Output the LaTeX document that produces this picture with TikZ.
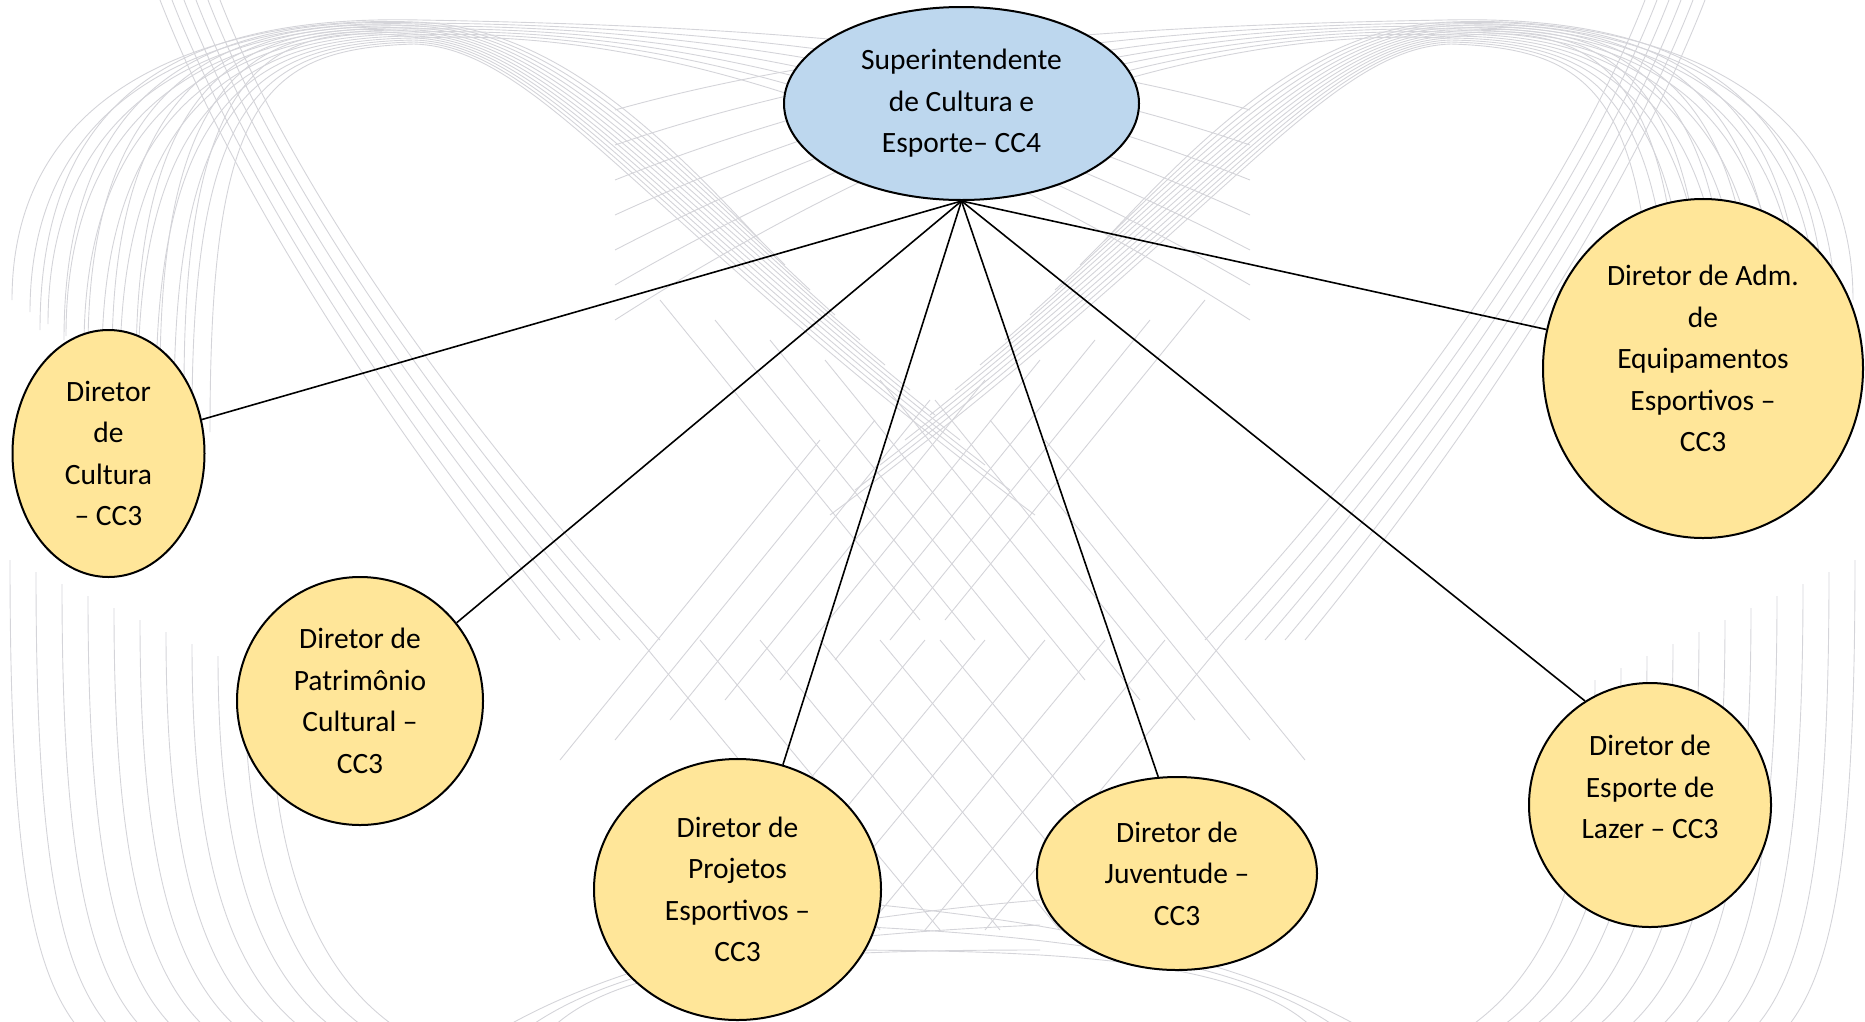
\documentclass[tikz,border=0pt]{standalone}
\usepackage{fontspec}
\setmainfont{Carlito}
\usetikzlibrary{shapes.geometric}

\definecolor{supblue}{RGB}{189,215,238}
\definecolor{dirgold}{RGB}{255,230,153}
\definecolor{bggrey}{RGB}{212,212,217}

\tikzset{
  bgline/.style={draw=bggrey, line width=0.9pt},
  nodetext/.style={align=center, inner sep=0pt, font=\fontsize{29.5}{41.5}\selectfont},
  chief/.style={nodetext, ellipse, draw, line width=2pt, fill=supblue},
  dirnode/.style={chief, fill=dirgold},
  link/.style={line width=1.6pt}
}

% one half of the faint background pattern (mirrored for the other half)
\newcommand{\bgcurves}{%
  \foreach \i in {0,...,11}
    \draw[bgline] (12+18*\i, 300+12*\i) .. controls (12+18*\i, 60+4*\i) and (260, 16+3*\i) .. (414, 22+2*\i)
      .. controls (540, 26+2*\i) and (640, 110+10*\i) .. (760+25*\i, 240+25*\i);
  \foreach \i in {0,...,6}
    \draw[bgline] (40+24*\i, 330+10*\i) .. controls (40+24*\i, 80) and (200+10*\i, 15) .. (420, 20+3*\i)
      .. controls (700, 25) and (1000, 40+20*\i) .. (1250, 110+35*\i);
  \foreach \i in {0,...,5}
    \draw[bgline] (160+12*\i, 0) .. controls (230+12*\i, 180) and (380+15*\i, 420) .. (560+20*\i, 640);
  \foreach \i in {0,...,7}
    \draw[bgline] (660+55*\i, 300+20*\i) -- ++(260, 320);
  \foreach \i in {0,...,5}
    \draw[bgline] (640+60*\i, 640) -- ++(240, 290);
  \foreach \i in {0,...,10}
    \draw[bgline] (10+26*\i, 560+12*\i) .. controls (10+26*\i, 850) and (30+28*\i, 970) .. (80+32*\i, 1030);
  \foreach \i in {0,...,2}
    \draw[bgline] (500+25*\i, 1030) .. controls (620, 960) and (800, 920+15*\i) .. (1040, 900+25*\i);
}

\begin{document}
\begin{tikzpicture}[x=1pt, y=-1pt]
  \useasboundingbox (0,0) rectangle (1865,1021);
  \begin{scope}
    \clip (0,0) rectangle (1865,1021);
    \bgcurves
    \begin{scope}[shift={(1865,0)}, xscale=-1]
      \bgcurves
    \end{scope}
  \end{scope}

  \node[chief, minimum width=355pt, minimum height=193pt] (sup) at (961.5,103.5) {Superintendente\\de Cultura e\\Esporte– CC4};
  \node[dirnode, minimum width=192pt, minimum height=247pt] (cul) at (108.5,453.5) {Diretor\\de\\Cultura\\– CC3};
  \node[dirnode, minimum width=246pt, minimum height=248pt] (pat) at (360,701) {Diretor de\\Patrimônio\\Cultural –\\CC3};
  \node[dirnode, minimum width=287pt, minimum height=261pt] (proj) at (737.5,889.5) {Diretor de\\Projetos\\Esportivos –\\CC3};
  \node[dirnode, minimum width=280pt, minimum height=193pt] (juv) at (1177,873.5) {Diretor de\\Juventude –\\CC3};
  \node[dirnode, minimum width=242pt, minimum height=244pt] (laz) at (1650,805) {};
  \node[nodetext] at ([yshift=18pt]laz.center) {Diretor de\\Esporte de\\Lazer – CC3};
  \node[dirnode, minimum width=320pt, minimum height=339pt] (adm) at (1703,368.5) {};
  \node[nodetext] at ([yshift=10pt]adm.center) {Diretor de Adm.\\de\\Equipamentos\\Esportivos –\\CC3};

  \draw[link] (sup.south) -- (cul.20);
  \draw[link] (sup.south) -- (pat.39);
  \draw[link] (sup.south) -- (proj.70);
  \draw[link] (sup.south) -- (juv.101);
  \draw[link] (sup.south) -- (laz.122);
  \draw[link] (sup.south) -- (adm.166);
\end{tikzpicture}
\end{document}
